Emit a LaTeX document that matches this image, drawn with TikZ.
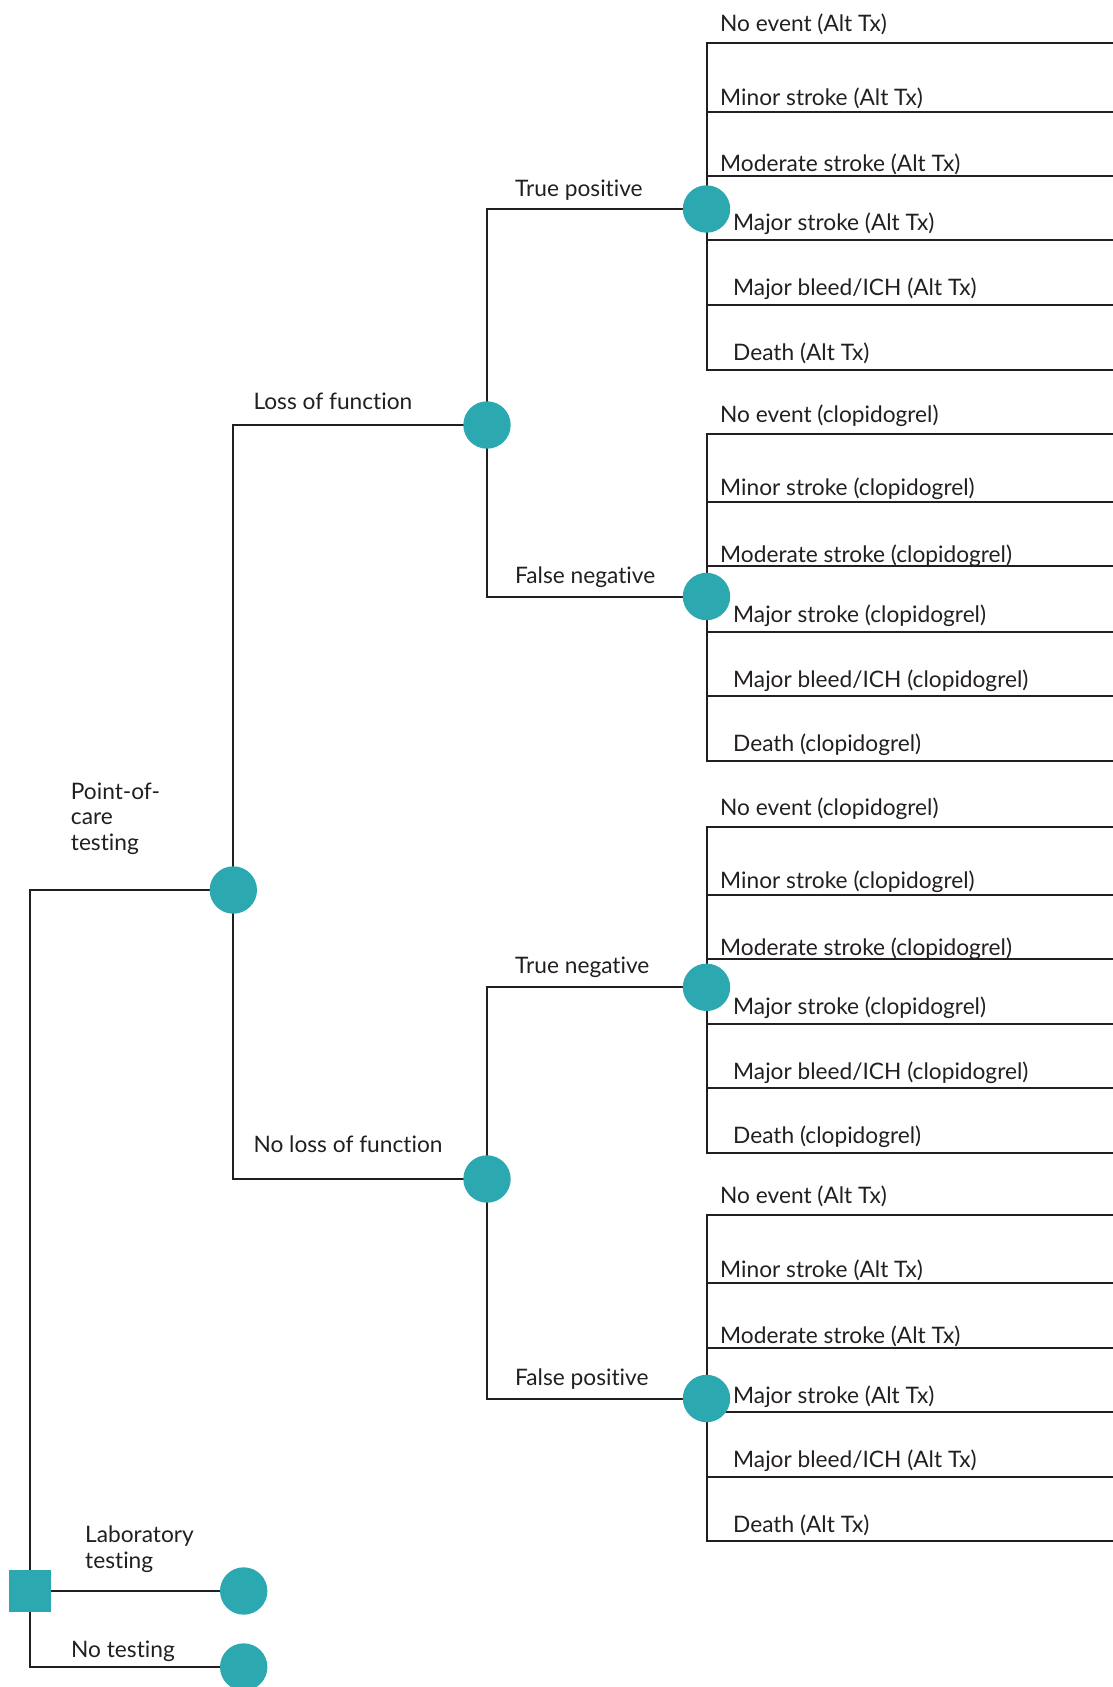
\documentclass[tikz,border=0pt]{standalone}
\usepackage{fontspec}
\setmainfont[Ligatures=NoCommon]{Lato}
\usetikzlibrary{backgrounds}
\definecolor{teal}{HTML}{2CA9B0}
\definecolor{ink}{HTML}{231F20}
\tikzset{
  chance/.style={circle,fill=teal,inner sep=0pt,minimum size=47.4pt},
  decision/.style={rectangle,fill=teal,inner sep=0pt,minimum size=42pt},
  branch/.style={draw=ink,line width=2pt},
  lbl/.style={anchor=base west,inner sep=0pt,text=ink,font=\fontsize{22.7}{25.8}\selectfont,align=left},
}
\begin{document}
\begin{tikzpicture}[x=1pt,y=-1pt]
\clip (0,0) rectangle (1113,1687);
\useasboundingbox (0,0) rectangle (1113,1687);
% nodes
\node[decision] (root) at (30,1591) {};
\node[chance] (poc) at (233.3,890) {};
\node[chance] (lab) at (243.7,1591) {};
\node[chance] (notest) at (243.7,1667) {};
\node[chance] (lof) at (487,425) {};
\node[chance] (nlof) at (487,1179) {};
\node[chance] (tp) at (706.5,209) {};
\node[chance] (fn) at (706.5,596.5) {};
\node[chance] (tn) at (706.5,987.3) {};
\node[chance] (fp) at (706.5,1398.5) {};
% branch labels
\node[lbl] (tpl) at (515,196.7) {True positive};
\node[lbl] (fnl) at (515,583.3) {False negative};
\node[lbl] (tnl) at (515,973.3) {True negative};
\node[lbl] (fpl) at (515,1385) {False positive};
\node[lbl] (lofl) at (253.3,409) {Loss of function};
\node[lbl] (nlofl) at (253.3,1152.7) {No loss of function};
\node[lbl] (pocl) at (70.7,850.7) {Point-of-\\care\\testing};
\node[lbl] (labl) at (85,1568.3) {Laboratory\\testing};
\node[lbl] (notestl) at (71,1657.3) {No testing};
% outcome groups
\foreach \g/\n/\a/\b/\c/\d/\e/\f/\t in {
  1/tp/43.3/111.8/175.7/240/305/370/Alt Tx,
  2/fn/433.8/501.6/566.2/631.9/696.4/761/clopidogrel,
  3/tn/826.7/894.5/959/1023.7/1088.3/1152.8/clopidogrel,
  4/fp/1215.3/1283/1347.7/1412.3/1476.9/1541.4/Alt Tx}{
  \coordinate (g\g o0) at (1113,\a);
  \coordinate (g\g o1) at (1113,\b);
  \coordinate (g\g o2) at (1113,\c);
  \coordinate (g\g o3) at (1113,\d);
  \coordinate (g\g o4) at (1113,\e);
  \coordinate (g\g o5) at (1113,\f);
  \node[lbl] (g\g l0) at (720,\a-11.6) {No event (\t)};
  \node[lbl] (g\g l1) at (720,\b-6) {Minor stroke (\t)};
  \node[lbl] (g\g l2) at (720,\c-4) {Moderate stroke (\t)};
  \node[lbl] (g\g l3) at (733,\d-9.3) {Major stroke (\t)};
  \node[lbl] (g\g l4) at (733,\e-9.3) {Major bleed/ICH (\t)};
  \node[lbl] (g\g l5) at (733,\f-9.3) {Death (\t)};
  \begin{pgfonlayer}{background}
    \foreach \k in {0,...,5}{
      \draw[branch] (\n.center) |- (g\g o\k);
    }
  \end{pgfonlayer}
}
\begin{pgfonlayer}{background}
  \draw[branch] (root.center) |- (poc.center);
  \draw[branch] (root.center) -- (lab.center);
  \draw[branch] (root.center) |- (notest.center);
  \draw[branch] (poc.center) |- (lof.center);
  \draw[branch] (poc.center) |- (nlof.center);
  \draw[branch] (lof.center) |- (tp.center);
  \draw[branch] (lof.center) |- (fn.center);
  \draw[branch] (nlof.center) |- (tn.center);
  \draw[branch] (nlof.center) |- (fp.center);
\end{pgfonlayer}
\end{tikzpicture}
\end{document}
